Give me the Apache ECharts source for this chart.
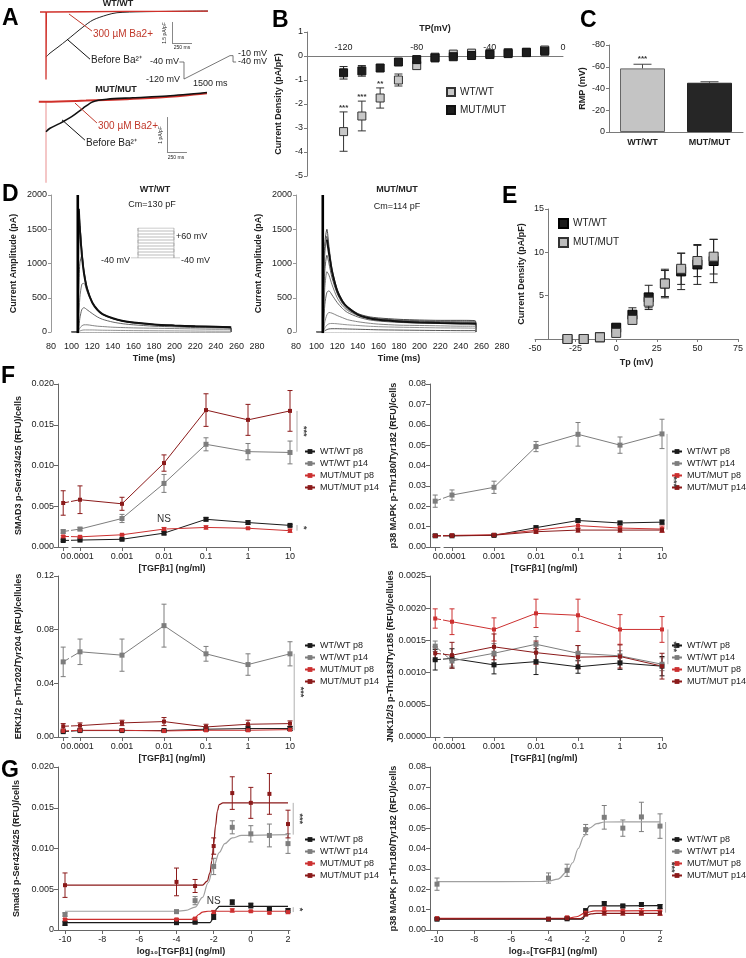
<!DOCTYPE html>
<html><head><meta charset="utf-8">
<script src="https://cdn.jsdelivr.net/npm/echarts@6.0.0/dist/echarts.min.js"></script>
<style>html,body{margin:0;padding:0;background:#fff}#c{width:746px;height:958px}</style>
</head><body><div id="c"></div>
<script>
// ================= DATA =================
// Panel A: traces (time ms, current density pA/pF)
const aTopBlackT = [0,50,150,262,462,587,762,887,1200,2025];
const aTopBlackI = [-3.21,-2.93,-2.5,-2.0,-1.07,-0.57,-0.21,-0.05,0.02,0.07];
const aTopRedT = [-75,0,0,5,500,1000,1500,2025];
const aTopRedI = [0,0,-4.8,0,0.02,0.04,0.05,0.07];
const aBotBlackT = [0,50,175,321,462,587,762,1087,1512,2012];
const aBotBlackI = [-0.85,-0.75,-0.61,-0.42,-0.18,0.01,0.08,0.12,0.17,0.27];
const aBotRedT = [-90,0,500,1000,1500,2012];
const aBotRedI = [0.01,0.01,0.04,0.08,0.14,0.25];
const aBotSpikeI = [0.01,-2.31];
const aProtoT = [-150,0,0,1500,1600,1600,1700];
const aProtoV = [-40,-40,-120,-10,-10,-40,-40];

// Panel B: I-V (TP mV)
const bTP = [-120,-110,-100,-90,-80,-70,-60,-50,-40,-30,-20,-10];
const bWT = [-3.15,-2.5,-1.75,-1.0,-0.4,-0.05,0.08,0.12,0.1,0.14,0.16,0.25];
const bWTerr = [0.82,0.62,0.42,0.25,0.15,0.04,0.04,0.04,0.04,0.04,0.04,0.04];
const bMUT = [-0.7,-0.62,-0.5,-0.25,-0.15,-0.08,-0.03,0.02,0.06,0.1,0.14,0.2];
const bMUTerr = [0.26,0.22,0.12,0.05,0.05,0.04,0.04,0.04,0.04,0.04,0.04,0.04];
const bSig = ['***','***','**','','','','','','','','',''];

// Panel C: RMP
const cCats = ['WT/WT','MUT/MUT'];
const cVals = [-58.5,-45.3];
const cErr = [3.8,0.9];
const cSig = ['***',''];

// Panel D: traces (time ms, pA)
const dT = [100,106,107,108,110,112,115,120,125,130,140,150,160,180,200,220,240,254,255];
const dWT1 = [0,0,1770,1600,1150,850,620,430,320,260,200,160,140,110,95,85,75,70,0];
const dWT2 = [0,0,1200,1550,1200,880,640,440,330,265,200,160,140,110,95,85,80,75,0];
const dWT3 = [0,0,600,1000,1120,900,650,440,330,260,195,160,135,110,90,80,75,70,0];
const dWT4 = [0,0,200,500,700,710,590,430,320,255,195,155,130,105,90,80,70,65,0];
const dWT5 = [0,0,50,200,330,355,325,270,220,185,145,120,105,85,75,65,60,55,0];
const dWT6 = [0,0,20,60,90,105,105,95,85,80,70,65,60,55,50,45,40,40,0];
const dWT7 = [0,0,5,15,25,30,30,30,28,26,24,22,20,18,16,14,12,12,0];
const dWT8 = [0,0,-5,-8,-8,-8,-8,-8,-8,-8,-8,-8,-8,-8,-8,-8,-8,-8,0];
const dWTfitT = [107,108,110,112,115,120,125,130,140,150,160,180,200,220,240,255];
const dWTfitI = [1800,1500,1120,860,630,430,325,262,200,160,138,110,95,84,76,70];
const dMUT1 = [0,0,800,1300,1500,1250,920,620,460,370,270,225,205,185,175,170,170,165,0];
const dMUT2 = [0,0,700,1150,1400,1200,890,600,445,355,260,215,195,175,165,160,160,155,0];
const dMUT3 = [0,0,500,900,1120,1000,790,560,420,335,250,205,185,165,155,150,145,140,0];
const dMUT4 = [0,0,300,650,880,830,690,500,385,315,240,195,175,155,145,140,135,130,0];
const dMUT5 = [0,0,150,400,580,600,540,430,345,285,220,180,160,140,130,125,120,115,0];
const dMUT6 = [0,0,50,150,250,285,275,240,210,180,150,130,115,100,95,90,85,85,0];
const dMUT7 = [0,0,20,60,100,120,125,120,112,105,95,85,78,70,65,60,58,55,0];
const dMUT8 = [0,0,5,20,35,45,48,48,46,44,40,36,32,28,25,22,20,20,0];
const dMUTfitT = [110,112,115,120,125,130,140,150,160,180,200,220,240,255];
const dMUTfitI = [1350,1150,880,600,450,360,255,205,180,155,140,130,125,120];
const dSpikeT = [106,106];
const dSpikeI = [-20,2000];
const dProtoLevels = [-40,-30,-20,-10,0,10,20,30,40,50,60];
const dProtoTimes = [77,106,255,280]; // pre, on, off, post

// Panel E
const eTP = [-30,-20,-10,0,10,20,30,40,50,60];
const eWT = [0,0,0.2,1.3,2.8,4.8,6.4,7.8,8.6,9.0];
const eWTerr = [0,0,0.1,0.3,0.8,1.4,1.65,2.1,2.3,2.5];
const eMUT = [0,0,0.2,0.7,2.2,4.3,6.4,8.1,9.0,9.5];
const eMUTerr = [0,0,0.1,0.2,0.5,0.7,1.5,1.8,1.8,2.0];

// Panels F: doses
const doseLabels = ['0','0.0001','0.001','0.01','0.1','1','10'];
// F1 SMAD3
const f1wt8 = [0.0008,0.00085,0.00095,0.0017,0.0034,0.0030,0.00265];
const f1wt8e = [0.0001,0.0001,0.0001,0.0002,0.0002,0.0002,0.0001];
const f1wt14 = [0.0019,0.0022,0.0035,0.0078,0.0126,0.0117,0.0116];
const f1wt14e = [0.0002,0.0002,0.0005,0.0011,0.0008,0.0010,0.0014];
const f1mut8 = [0.0013,0.00125,0.0015,0.0022,0.0024,0.0023,0.0020];
const f1mut8e = [0.0001,0.0001,0.0001,0.0002,0.0002,0.0001,0.0002];
const f1mut14 = [0.0054,0.0058,0.0053,0.0103,0.0168,0.0156,0.0167];
const f1mut14e = [0.0015,0.0017,0.0008,0.0010,0.0020,0.0019,0.0025];
// F2 p38
const f2wt8 = [0.0055,0.0055,0.0057,0.0095,0.0130,0.0118,0.0122];
const f2wt8e = [0.0005,0.0004,0.0005,0.0008,0.0006,0.0008,0.0010];
const f2wt14 = [0.0225,0.0255,0.0293,0.0493,0.0553,0.0500,0.0555];
const f2wt14e = [0.003,0.0025,0.003,0.0025,0.0058,0.004,0.0072];
const f2mut8 = [0.0055,0.0057,0.0060,0.0082,0.0105,0.0093,0.0088];
const f2mut8e = [0.0004,0.0004,0.0005,0.0010,0.0015,0.0010,0.0015];
const f2mut14 = [0.0055,0.0055,0.0058,0.0075,0.0083,0.0083,0.0083];
const f2mut14e = [0.0004,0.0004,0.0005,0.0008,0.0010,0.0010,0.0010];
// F3 ERK
const f3wt8 = [0.0040,0.0048,0.0048,0.0048,0.0058,0.0063,0.0063];
const f3wt8e = [0.0005,0.0005,0.0005,0.0005,0.0010,0.0020,0.0015];
const f3wt14 = [0.056,0.0635,0.061,0.083,0.062,0.054,0.062];
const f3wt14e = [0.011,0.0095,0.012,0.016,0.0055,0.008,0.009];
const f3mut8 = [0.0045,0.0050,0.0050,0.0045,0.0050,0.0050,0.0055];
const f3mut8e = [0.0005,0.0005,0.0008,0.0008,0.0008,0.0008,0.0008];
const f3mut14 = [0.0080,0.0085,0.0105,0.0115,0.0075,0.0095,0.0100];
const f3mut14e = [0.0020,0.0020,0.0020,0.0030,0.0020,0.0030,0.0020];
// F4 JNK
const f4wt8 = [0.00120,0.00122,0.00112,0.00117,0.00109,0.00115,0.00110];
const f4wt8e = [0.00016,0.00015,0.00014,0.00020,0.00010,0.00010,0.00015];
const f4wt14 = [0.00141,0.00118,0.00130,0.00144,0.00130,0.00126,0.00113];
const f4wt14e = [0.00008,0.00008,0.00015,0.00012,0.00012,0.00008,0.00010];
const f4mut8 = [0.00184,0.00179,0.00167,0.00192,0.00189,0.00167,0.00167];
const f4mut8e = [0.00015,0.00020,0.00018,0.00022,0.00025,0.00023,0.00020];
const f4mut14 = [0.00130,0.00127,0.00140,0.00131,0.00124,0.00125,0.00110];
const f4mut14e = [0.00010,0.00020,0.00020,0.00018,0.00018,0.00018,0.00020];

// Panels G: log10 dose
const gLog = [-10,-4,-3,-2,-1,0,1,2];
const gTicks = [-10,-8,-6,-4,-2,0,2];
const g1wt8 = [0.0008,0.0009,0.00095,0.0016,0.0034,0.0030,0.0026,0.0024];
const g1wt8e = [0.0002,0.0001,0.0001,0.0003,0.0003,0.0003,0.0001,0.0002];
const g1wt14 = [0.0019,0.00225,0.0036,0.0078,0.0126,0.0118,0.0116,0.0106];
const g1wt14e = [0.0002,0.0002,0.0005,0.0010,0.0008,0.0010,0.0014,0.0012];
const g1mut8 = [0.0013,0.0013,0.0014,0.0022,0.0024,0.0023,0.0021,0.0022];
const g1mut8e = [0.0001,0.0001,0.0001,0.0002,0.0002,0.0001,0.0001,0.0002];
const g1mut14 = [0.0055,0.0059,0.0054,0.0103,0.0168,0.0156,0.0167,0.0130];
const g1mut14e = [0.0015,0.0017,0.0008,0.0010,0.0020,0.0019,0.0025,0.0017];
const g1cWt8X = [-10,-2.2,-2.05,-1.95,-1.85,-1.7,2];
const g1cWt8Y = [0.0009,0.0009,0.0013,0.0020,0.0026,0.0029,0.0029];
const g1cWt14X = [-10,-4,-3.5,-3,-2.6,-2.3,-2,-1.7,-1.4,-1,-0.5,2];
const g1cWt14Y = [0.0023,0.0023,0.0024,0.0028,0.0040,0.0058,0.0078,0.0095,0.0106,0.0113,0.0116,0.0117];
const g1cMut8X = [-10,-3.2,-3.0,-2.8,-2.6,-2.3,2];
const g1cMut8Y = [0.0013,0.0013,0.0015,0.0019,0.0022,0.0023,0.0023];
const g1cMut14X = [-10,-2.6,-2.35,-2.2,-2.1,-2.0,-1.9,-1.8,-1.7,-1.5,2];
const g1cMut14Y = [0.0055,0.0055,0.0060,0.0070,0.0085,0.0105,0.0128,0.0146,0.0154,0.0156,0.0156];
const g2wt8 = [0.0053,0.0053,0.0055,0.0095,0.0130,0.0118,0.0125,0.0115];
const g2wt8e = [0.0005,0.0004,0.0005,0.0008,0.0008,0.0008,0.0008,0.0010];
const g2wt14 = [0.0225,0.0255,0.0293,0.0493,0.0553,0.0500,0.0555,0.0510];
const g2wt14e = [0.003,0.0025,0.003,0.0025,0.0058,0.004,0.0072,0.006];
const g2mut8 = [0.0058,0.0055,0.0062,0.0085,0.0105,0.0093,0.0090,0.0088];
const g2mut8e = [0.0004,0.0004,0.0005,0.0010,0.0015,0.0010,0.0015,0.0015];
const g2mut14 = [0.0055,0.0053,0.0058,0.0077,0.0083,0.0083,0.0083,0.0083];
const g2mut14e = [0.0004,0.0004,0.0005,0.0008,0.0010,0.0010,0.0010,0.0010];
const g2cWt8X = [-10,-2.15,-2.0,-1.9,-1.8,2];
const g2cWt8Y = [0.0053,0.0053,0.0080,0.0108,0.0118,0.0120];
const g2cWt14X = [-10,-4.5,-4,-3.5,-3,-2.7,-2.4,-2.1,-1.8,-1.4,-1,2];
const g2cWt14Y = [0.0237,0.0238,0.0240,0.0250,0.0285,0.0330,0.0400,0.0460,0.0500,0.0522,0.0530,0.0531];
const g2cMut8X = [-10,-3,-2.5,-2.0,-1.5,2];
const g2cMut8Y = [0.0057,0.0057,0.0065,0.0085,0.0094,0.0095];
const g2cMut14X = [-10,-2.3,-2.0,-1.7,-1.4,2];
const g2cMut14Y = [0.0055,0.0056,0.0070,0.0079,0.0082,0.0082];

// ================= BUILD =================
const FONT = '"Liberation Sans", Arial, Helvetica, sans-serif';
const AX = '#7a7a7a', FAX = '#666';
const NAME = {fontWeight:'bold', fontSize:9, color:'#222', fontFamily:FONT};
function LBL(fs){ return {fontSize:fs||9, color:'#222', fontFamily:FONT}; }
const grids=[], xAxis=[], yAxis=[], series=[], legend=[], texts=[];
function grid(l,t,w,h,xa,ya){
  grids.push({left:l, top:t, width:w, height:h, containLabel:false});
  const i = grids.length-1;
  xAxis.push(Object.assign({gridIndex:i, type:'value', splitLine:{show:false}}, xa));
  yAxis.push(Object.assign({gridIndex:i, type:'value', splitLine:{show:false}}, ya));
  return i;
}
function pairs(a,b){ return a.map((x,i)=>[x,b[i]]); }
function txt(x,y,s,o){ o=o||{}; texts.push({type:'text', x:x, y:y, rotation:o.rot||0, silent:true, z:100,
  style:{text:s, font:(o.w||'normal')+' '+(o.fs||10)+'px '+FONT, fill:o.c||'#222',
    textAlign:o.a||'left', textVerticalAlign:'middle', align:o.a||'left', verticalAlign:'middle'}}); }
function errSeries(gi, items, capW){
  return {type:'custom', xAxisIndex:gi, yAxisIndex:gi, silent:true, clip:false, z:2,
    data: items.map(d=>[d[0],d[1]]), encode:{x:0,y:1},
    renderItem:(p,api)=>{ const d=items[p.dataIndex];
      if(!d[2]) return null;
      const t=api.coord([d[0],d[1]+d[2]]), b=api.coord([d[0],d[1]-d[2]]);
      const st={stroke:d[3], lineWidth:1};
      return {type:'group', children:[
        {type:'line', shape:{x1:t[0],y1:t[1],x2:b[0],y2:b[1]}, style:st},
        {type:'line', shape:{x1:t[0]-capW,y1:t[1],x2:t[0]+capW,y2:t[1]}, style:st},
        {type:'line', shape:{x1:b[0]-capW,y1:b[1],x2:b[0]+capW,y2:b[1]}, style:st}]};
    }};
}
function annoSeries(gi, items){
  return {type:'custom', xAxisIndex:gi, yAxisIndex:gi, silent:true, clip:false, z:6,
    data: items.map(it=>[it.x, it.y!==undefined?it.y:it.y1]), encode:{x:0,y:1},
    renderItem:(p,api)=>{ const it=items[p.dataIndex];
      if(it.k==='br'){ const a=api.coord([it.x,it.y1]), b=api.coord([it.x,it.y2]);
        return {type:'group', children:[
          {type:'line', shape:{x1:a[0],y1:a[1],x2:b[0],y2:b[1]}, style:{stroke:'#b0b0b0', lineWidth:1}},
          {type:'text', x:a[0]+6, y:(a[1]+b[1])/2, rotation:-Math.PI/2,
           style:{text:it.t, font:'bold 9px '+FONT, fill:'#444', textAlign:'center', textVerticalAlign:'middle', align:'center', verticalAlign:'middle'}}]};
      }
      const a=api.coord([it.x,it.y]);
      return {type:'text', x:a[0], y:a[1]+(it.dy||0),
        style:{text:it.t, font:it.font||('10px '+FONT), fill:it.c||'#333', textAlign:'center', textVerticalAlign:'middle', align:'center', verticalAlign:'middle'}};
    }};
}
const hidAx = (min,max)=>({show:false, min:min, max:max});

// ---------- Panel A ----------
const gAT = grid(38,5,170,80, hidAx(-100,2025), hidAx(-5.2,0.5));
series.push({type:'line', xAxisIndex:gAT, yAxisIndex:gAT, data:pairs(aTopBlackT,aTopBlackI), showSymbol:false, smooth:0.3, lineStyle:{color:'#222', width:1}, z:2,
  markLine:{silent:true, symbol:['none','arrow'], symbolSize:[0,7], label:{show:false}, animation:false,
    data:[[{coord:[575,-1.36], lineStyle:{color:'#c0392b',width:1,type:'solid'}},{coord:[287,-0.14]}],
          [{coord:[550,-3.36], lineStyle:{color:'#111',width:1,type:'solid'}},{coord:[262,-1.93]}]]}});
series.push({type:'line', xAxisIndex:gAT, yAxisIndex:gAT, data:pairs(aTopRedT,aTopRedI), showSymbol:false, lineStyle:{color:'#d0302a', width:1.3}, z:3,
  markLine:{silent:true, symbol:['none','none'], label:{show:false}, animation:false,
    data:[[{coord:[1575,-0.71], lineStyle:{color:'#888',width:1,type:'solid'}},{coord:[1575,-2.21]}],
          [{coord:[1575,-2.21], lineStyle:{color:'#888',width:1,type:'solid'}},{coord:[1825,-2.21]}]]}});
const gAB = grid(38,88,170,98, hidAx(-100,2025), hidAx(-2.4,0.4));
series.push({type:'line', xAxisIndex:gAB, yAxisIndex:gAB, data:[[0,aBotSpikeI[0]],[0,aBotSpikeI[1]]], showSymbol:false, lineStyle:{color:'#f0b4b4', width:1.5}, z:1});
series.push({type:'line', xAxisIndex:gAB, yAxisIndex:gAB, data:pairs(aBotRedT,aBotRedI), showSymbol:false, smooth:0.3, lineStyle:{color:'#d0302a', width:2}, z:2,
  markLine:{silent:true, symbol:['none','none'], label:{show:false}, animation:false,
    data:[[{coord:[1512,-0.43], lineStyle:{color:'#888',width:1,type:'solid'}},{coord:[1512,-1.43]}],
          [{coord:[1512,-1.43], lineStyle:{color:'#888',width:1,type:'solid'}},{coord:[1762,-1.43]}]]}});
series.push({type:'line', xAxisIndex:gAB, yAxisIndex:gAB, data:pairs(aBotBlackT,aBotBlackI), showSymbol:false, smooth:0.3, lineStyle:{color:'#111', width:1.6}, z:3,
  markLine:{silent:true, symbol:['none','arrow'], symbolSize:[0,7], label:{show:false}, animation:false,
    data:[[{coord:[637,-0.6], lineStyle:{color:'#c0392b',width:1,type:'solid'}},{coord:[362,-0.03]}],
          [{coord:[487,-1.09], lineStyle:{color:'#111',width:1,type:'solid'}},{coord:[200,-0.51]}]]}});
const gAP = grid(179.4,53.5,56.7,26.6, hidAx(-150,1700), hidAx(-125,0));
series.push({type:'line', xAxisIndex:gAP, yAxisIndex:gAP, data:pairs(aProtoT,aProtoV), showSymbol:false, lineStyle:{color:'#555', width:0.8}});

// ---------- Panel B ----------
const gB = grid(307,32,256,144,
  {min:-140, max:0, interval:20, position:'top', offset:-24, axisLine:{show:true, onZero:false, lineStyle:{color:AX}}, axisTick:{show:false},
   axisLabel:{...LBL(9), margin:4, formatter:v=>(v%40===0 && v!==-140)?String(v):''},
   name:'TP(mV)', nameLocation:'middle', nameGap:23, nameTextStyle:NAME},
  {min:-5, max:1, interval:1, axisLine:{show:true, onZero:false, lineStyle:{color:AX}}, axisTick:{show:true, length:3, lineStyle:{color:AX}},
   axisLabel:{...LBL(9), margin:4}, name:'Current Density (pA/pF)', nameLocation:'middle', nameGap:24, nameTextStyle:NAME});
series.push(errSeries(gB, bTP.map((x,i)=>[x,bWT[i],bWTerr[i],'#333']).concat(bTP.map((x,i)=>[x,bMUT[i],bMUTerr[i],'#222'])), 4));
series.push({type:'scatter', name:'WT/WT', xAxisIndex:gB, yAxisIndex:gB, symbol:'rect', symbolSize:8, data:pairs(bTP,bWT),
  itemStyle:{color:'#c8c8c8', borderColor:'#333', borderWidth:1, opacity:1}, z:3});
series.push({type:'scatter', name:'MUT/MUT', xAxisIndex:gB, yAxisIndex:gB, symbol:'rect', symbolSize:8, data:pairs(bTP,bMUT),
  itemStyle:{color:'#1e1e1e', borderColor:'#111', borderWidth:1, opacity:1}, z:4});
series.push(annoSeries(gB, bTP.map((x,i)=>({k:'tx', x:x, y:bWT[i]+bWTerr[i], dy:-4, t:bSig[i], font:'bold 8px '+FONT, c:'#333'})).filter(o=>o.t)));
legend.push({left:446, top:87, orient:'vertical', itemGap:8, itemWidth:8, itemHeight:8, itemTextGap:3, padding:0, selectedMode:false,
  data:['WT/WT','MUT/MUT'], textStyle:{fontSize:10, color:'#222', fontFamily:FONT}});

// ---------- Panel C ----------
const gC = grid(609,45,134,87,
  {type:'category', data:cCats, axisLine:{show:true, lineStyle:{color:AX}}, axisTick:{show:false},
   axisLabel:{...LBL(9), fontWeight:'bold', margin:6}},
  {min:-80, max:0, interval:20, inverse:true, axisLine:{show:true, onZero:false, lineStyle:{color:AX}}, axisTick:{show:true, length:3, lineStyle:{color:AX}},
   axisLabel:{...LBL(9), margin:4}, name:'RMP (mV)', nameLocation:'middle', nameGap:22, nameTextStyle:NAME});
series.push({type:'bar', xAxisIndex:gC, yAxisIndex:gC, barWidth:45, z:2,
  data:[{value:cVals[0], itemStyle:{color:'#c4c4c4', borderColor:'#666', borderWidth:1}},
        {value:cVals[1], itemStyle:{color:'#262626', borderColor:'#222', borderWidth:1}}]});
series.push({type:'custom', xAxisIndex:gC, yAxisIndex:gC, silent:true, clip:false, z:3, data:cVals.map((v,i)=>[i,v]), encode:{x:0,y:1},
  renderItem:(p,api)=>{ const i=p.dataIndex; const a=api.coord([i,cVals[i]]), b=api.coord([i,cVals[i]-cErr[i]]); const st={stroke:'#444',lineWidth:1};
    return {type:'group', children:[{type:'line',shape:{x1:a[0],y1:a[1],x2:b[0],y2:b[1]},style:st},{type:'line',shape:{x1:b[0]-9,y1:b[1],x2:b[0]+9,y2:b[1]},style:st}]}; }});
series.push(annoSeries(gC, cVals.map((v,i)=>({k:'tx', x:i, y:v-cErr[i], dy:-5, t:cSig[i], font:'bold 8px '+FONT, c:'#333'})).filter(o=>o.t)));

// ---------- Panel D ----------
function buildD(left, traces, fitT, fitI){
  const gi = grid(left,195,206,137,
    {min:80, max:280, interval:20, axisLine:{show:false}, axisTick:{show:false}, axisLabel:{...LBL(9), margin:10, formatter:v=>String(v)},
     name:'Time (ms)', nameLocation:'middle', nameGap:22, nameTextStyle:NAME},
    {min:0, max:2000, interval:500, axisLine:{show:true, onZero:false, lineStyle:{color:'#999'}}, axisTick:{show:true, length:3, lineStyle:{color:'#999'}},
     axisLabel:{...LBL(9), margin:4, formatter:v=>String(v)}, name:'Current Amplitude (pA)', nameLocation:'middle', nameGap:33, nameTextStyle:NAME});
  const cols = ['#333','#555','#444','#666','#555','#777','#888','#444','#999'];
  traces.forEach((tr,k)=>series.push({type:'line', xAxisIndex:gi, yAxisIndex:gi, data:pairs(dT,tr), showSymbol:false, smooth:0.25,
    lineStyle:{color:cols[k%cols.length], width:0.9}, z:2}));
  series.push({type:'line', xAxisIndex:gi, yAxisIndex:gi, data:pairs(fitT,fitI), showSymbol:false, smooth:0.3, lineStyle:{color:'#111', width:2}, z:3});
  series.push({type:'line', xAxisIndex:gi, yAxisIndex:gi, data:pairs(dSpikeT,dSpikeI), showSymbol:false, lineStyle:{color:'#000', width:2.6}, z:4});
  return gi;
}
buildD(51, [dWT1,dWT2,dWT3,dWT4,dWT5,dWT6,dWT7,dWT8], dWTfitT, dWTfitI);
buildD(296, [dMUT1,dMUT2,dMUT3,dMUT4,dMUT5,dMUT6,dMUT7,dMUT8,dWT8], dMUTfitT, dMUTfitI);
// D protocol inset
const gDP = grid(131,228,49,30, hidAx(77,280), hidAx(-40,60));
const pOn = dProtoTimes[1], pOff = dProtoTimes[2];
const snake = [];
dProtoLevels.forEach((L,i)=>{ const a = i%2===0 ? [pOn,pOff] : [pOff,pOn]; snake.push([a[0],L],[a[1],L]); });
const pMax = dProtoLevels[dProtoLevels.length-1], pHold = dProtoLevels[0];
[[[dProtoTimes[0],pHold],[pOn,pHold],[pOn,pMax]], snake, [[pOff,pMax],[pOff,pHold],[dProtoTimes[3],pHold]]].forEach(d=>
  series.push({type:'line', xAxisIndex:gDP, yAxisIndex:gDP, data:d, showSymbol:false, lineStyle:{color:'#aaa', width:0.8}}));

// ---------- Panel E ----------
const gE = grid(535,209,205,130,
  {min:-50, max:75, interval:25, axisLine:{show:true, onZero:false, lineStyle:{color:AX}}, axisTick:{show:true, length:3, lineStyle:{color:AX}},
   axisLabel:{...LBL(9), margin:5}, name:'Tp (mV)', nameLocation:'middle', nameGap:19, nameTextStyle:NAME},
  {min:0, max:15, interval:5, offset:-13, axisLine:{show:true, onZero:false, lineStyle:{color:AX}}, axisTick:{show:true, length:3, lineStyle:{color:AX}},
   axisLabel:{...LBL(9), margin:4, formatter:v=>v===0?'':String(v)}, name:'Current Density (pA/pF)', nameLocation:'middle', nameGap:22, nameTextStyle:NAME});
series.push(errSeries(gE, eTP.map((x,i)=>[x,eWT[i],eWTerr[i],'#222']).concat(eTP.map((x,i)=>[x,eMUT[i],eMUTerr[i],'#222'])), 4));
series.push({type:'scatter', name:'WT/WT ', xAxisIndex:gE, yAxisIndex:gE, symbol:'rect', symbolSize:9, data:pairs(eTP,eWT),
  itemStyle:{color:'#1a1a1a', borderColor:'#000', borderWidth:1, opacity:1}, z:3});
series.push({type:'scatter', name:'MUT/MUT ', xAxisIndex:gE, yAxisIndex:gE, symbol:'rect', symbolSize:9, data:pairs(eTP,eMUT),
  itemStyle:{color:'#bdbdbd', borderColor:'#333', borderWidth:1, opacity:1}, z:4});
legend.push({left:558, top:218, orient:'vertical', itemGap:8, itemWidth:9, itemHeight:9, itemTextGap:3, padding:0, selectedMode:false,
  data:['WT/WT ','MUT/MUT '], textStyle:{fontSize:10, color:'#222', fontFamily:FONT}});

// ---------- Panels F ----------
const groups = [
  {name:'WT/WT p8', color:'#1a1a1a', sym:5},
  {name:'WT/WT p14', color:'#7d7d7d', sym:5, curve:'#a0a0a0'},
  {name:'MUT/MUT p8', color:'#cc3030', sym:4},
  {name:'MUT/MUT p14', color:'#8b1a1a', sym:4}];
const ZERO_POS = -4.4; // position on the log10 dose axis where the "0" dose is drawn
const dosePos = doseLabels.map(s=>s==='0' ? ZERO_POS : Math.log10(+s));
function addLegend(l,t){
  legend.push({left:l, top:t, orient:'vertical', itemGap:1, itemWidth:10, itemHeight:6, itemTextGap:3, padding:0, selectedMode:false,
    data:groups.map(g=>g.name), textStyle:{fontSize:9, color:'#222', fontFamily:FONT, lineHeight:11}});
}
function buildF(c){
  const D = 42;
  const zeroPx = c.x4 + (ZERO_POS+4)*D;
  const zMin = ZERO_POS - (zeroPx - c.axisX)/D, zMax = zMin + 10/D;
  const mMin = -4 - (c.x4 - (c.axisX+14))/D, mMax = 1;
  const xl = {show:true, onZero:false, lineStyle:{color:FAX}};
  const yb = {min:c.yMin, max:c.yMax, interval:c.yInt};
  const gz = grid(c.axisX, c.top, 10, c.h,
    {min:zMin, max:zMax, axisLine:xl, axisTick:{show:true, length:4, customValues:[ZERO_POS], lineStyle:{color:FAX}},
     axisLabel:{...LBL(9), margin:5, customValues:[ZERO_POS], formatter:()=>'0'}},
    Object.assign({}, yb, {axisLine:{show:true, onZero:false, lineStyle:{color:FAX}}, axisTick:{show:true, length:4, lineStyle:{color:FAX}},
     axisLabel:{...LBL(9), margin:4, formatter:c.yFmt}, name:c.yName, nameLocation:'middle', nameGap:c.yGap, nameTextStyle:NAME}));
  const mt = [-4,-3,-2,-1,0,1];
  const gm = grid(c.x4 + (mMin+4)*D, c.top, (mMax-mMin)*D, c.h,
    {min:mMin, max:mMax, axisLine:xl, axisTick:{show:true, length:4, customValues:mt, lineStyle:{color:FAX}},
     axisLabel:{...LBL(9), margin:5, customValues:mt, formatter:v=>doseLabels[Math.round(v)+5]},
     name:'[TGFβ1] (ng/ml)', nameLocation:'middle', nameGap:17, nameTextStyle:Object.assign({}, NAME, {padding:[0,18,0,0]})},
    Object.assign({show:false}, yb));
  const vals=[c.wt8,c.wt14,c.mut8,c.mut14], errs=[c.wt8e,c.wt14e,c.mut8e,c.mut14e];
  const ez=[], em=[];
  groups.forEach((g,k)=>vals[k].forEach((v,i)=>(i===0?ez:em).push([dosePos[i], v, errs[k][i], g.color])));
  series.push(errSeries(gz, ez, 2.5));
  series.push(errSeries(gm, em, 2.5));
  groups.forEach((g,k)=>{
    const data = pairs(dosePos, vals[k]);
    [gz,gm].forEach(gi=>series.push({type:'line', name:g.name, xAxisIndex:gi, yAxisIndex:gi, data:data, symbol:'rect', symbolSize:g.sym,
      showSymbol:true, showAllSymbol:true, clip:true, lineStyle:{width:1, color:g.color}, itemStyle:{color:g.color}, z:3}));
  });
  series.push(annoSeries(gm, c.anno));
  addLegend(c.legL, c.legT);
}
buildF({axisX:58, x4:80, top:384, h:163, yMin:0, yMax:0.02, yInt:0.005, yFmt:v=>v.toFixed(3), yName:'SMAD3 p-Ser423/425 (RFU)/cells', yGap:35,
  wt8:f1wt8, wt8e:f1wt8e, wt14:f1wt14, wt14e:f1wt14e, mut8:f1mut8, mut8e:f1mut8e, mut14:f1mut14, mut14e:f1mut14e,
  anno:[{k:'br', x:1.167, y1:0.0167, y2:0.0117, t:'***'}, {k:'br', x:1.167, y1:0.0027, y2:0.0020, t:'*'}, {k:'tx', x:-2, y:0.0034, t:'NS'}],
  legL:304, legT:446});
buildF({axisX:430, x4:452, top:384, h:163, yMin:0, yMax:0.08, yInt:0.01, yFmt:v=>v.toFixed(2), yName:'p38 MAPK p-Thr180/Tyr182 (RFU)/cells', yGap:32,
  wt8:f2wt8, wt8e:f2wt8e, wt14:f2wt14, wt14e:f2wt14e, mut8:f2mut8, mut8e:f2mut8e, mut14:f2mut14, mut14e:f2mut14e,
  anno:[{k:'br', x:1.12, y1:0.0555, y2:0.0085, t:'***'}],
  legL:671, legT:446});
buildF({axisX:58, x4:80, top:576, h:161, yMin:0, yMax:0.12, yInt:0.04, yFmt:v=>v.toFixed(2), yName:'ERK1/2 p-Thr202/Tyr204 (RFU)/cellules', yGap:35,
  wt8:f3wt8, wt8e:f3wt8e, wt14:f3wt14, wt14e:f3wt14e, mut8:f3mut8, mut8e:f3mut8e, mut14:f3mut14, mut14e:f3mut14e,
  anno:[{k:'br', x:1.1, y1:0.062, y2:0.005, t:'***'}],
  legL:304, legT:640});
buildF({axisX:430, x4:452, top:576, h:161, yMin:0, yMax:0.0025, yInt:0.0005, yFmt:v=>v.toFixed(4), yName:'JNK1/2/3 p-Thr183/Tyr185 (RFU)/cellules', yGap:32,
  wt8:f4wt8, wt8e:f4wt8e, wt14:f4wt14, wt14e:f4wt14e, mut8:f4mut8, mut8e:f4mut8e, mut14:f4mut14, mut14e:f4mut14e,
  anno:[{k:'br', x:1.14, y1:0.00167, y2:0.00113, t:'***'}],
  legL:671, legT:640});

// ---------- Panels G ----------
function buildG(c){
  const S = (c.x2 - c.x10)/12;
  const min = -10 - (c.x10 - c.axisX)/S, max = 2 + (c.right - c.x2)/S;
  const gi = grid(c.axisX, c.top, (max-min)*S, c.h,
    {min:min, max:max, axisLine:{show:true, onZero:false, lineStyle:{color:FAX}}, axisTick:{show:true, length:4, customValues:gTicks, lineStyle:{color:FAX}},
     axisLabel:{...LBL(9), margin:5, customValues:gTicks, formatter:v=>String(v)},
     name:'log₁₀[TGFβ1] (ng/ml)', nameLocation:'middle', nameGap:17, nameTextStyle:Object.assign({}, NAME, {padding:[0,0,0,14]})},
    {min:c.yMin, max:c.yMax, interval:c.yInt, axisLine:{show:true, onZero:false, lineStyle:{color:FAX}}, axisTick:{show:true, length:4, lineStyle:{color:FAX}},
     axisLabel:{...LBL(9), margin:4, formatter:c.yFmt}, name:c.yName, nameLocation:'middle', nameGap:c.yGap, nameTextStyle:NAME});
  const vals=[c.wt8,c.wt14,c.mut8,c.mut14], errs=[c.wt8e,c.wt14e,c.mut8e,c.mut14e];
  const ei=[];
  groups.forEach((g,k)=>vals[k].forEach((v,i)=>ei.push([gLog[i], v, errs[k][i], g.color])));
  series.push(errSeries(gi, ei, 2.5));
  groups.forEach((g,k)=>series.push({type:'line', name:g.name, xAxisIndex:gi, yAxisIndex:gi, data:pairs(c.cx[k], c.cy[k]), showSymbol:false,
    symbol:'rect', symbolSize:g.sym, smooth:0.35, smoothMonotone:'x', lineStyle:{width:1.2, color:g.curve||g.color}, itemStyle:{color:g.color}, z:3}));
  groups.forEach((g,k)=>series.push({type:'scatter', name:g.name, xAxisIndex:gi, yAxisIndex:gi, data:pairs(gLog, vals[k]), symbol:'rect',
    symbolSize:g.sym, itemStyle:{color:g.color, opacity:1}, z:4}));
  series.push(annoSeries(gi, c.anno));
  addLegend(c.legL, c.legT);
}
buildG({axisX:58, x10:65, x2:288, right:290, top:767, h:163, yMin:0, yMax:0.02, yInt:0.005, yFmt:v=>v===0?'0':v.toFixed(3),
  yName:'Smad3 p-Ser423/425 (RFU)/cells', yGap:37,
  wt8:g1wt8, wt8e:g1wt8e, wt14:g1wt14, wt14e:g1wt14e, mut8:g1mut8, mut8e:g1mut8e, mut14:g1mut14, mut14e:g1mut14e,
  cx:[g1cWt8X,g1cWt14X,g1cMut8X,g1cMut14X], cy:[g1cWt8Y,g1cWt14Y,g1cMut8Y,g1cMut14Y],
  anno:[{k:'br', x:2.28, y1:0.0156, y2:0.0117, t:'***'}, {k:'br', x:2.28, y1:0.0028, y2:0.0022, t:'*'}, {k:'tx', x:-2, y:0.0035, t:'NS'}],
  legL:304, legT:834});
buildG({axisX:430, x10:437, x2:660, right:662, top:767, h:163, yMin:0, yMax:0.08, yInt:0.01, yFmt:v=>v.toFixed(2),
  yName:'p38 MAPK p-Thr180/Tyr182 (RFU)/cells', yGap:32,
  wt8:g2wt8, wt8e:g2wt8e, wt14:g2wt14, wt14e:g2wt14e, mut8:g2mut8, mut8e:g2mut8e, mut14:g2mut14, mut14e:g2mut14e,
  cx:[g2cWt8X,g2cWt14X,g2cMut8X,g2cMut14X], cy:[g2cWt8Y,g2cWt14Y,g2cMut8Y,g2cMut14Y],
  anno:[{k:'br', x:2.3, y1:0.053, y2:0.0085, t:'***'}],
  legL:671, legT:834});

// ---------- Texts ----------
[['A',2,19],['B',272,21],['C',580,21],['D',2,195],['E',502,197],['F',1,377],['G',1,771]].forEach(a=>txt(a[1],a[2],a[0],{w:'bold',fs:23,c:'#000'}));
txt(118,4,'WT/WT',{w:'bold',fs:9,a:'center'});
txt(116,90,'MUT/MUT',{w:'bold',fs:9,a:'center'});
txt(93,34,'300 µM Ba2+',{fs:10,c:'#c0392b'});
txt(91,60,'Before Ba²⁺',{fs:10});
txt(98,126,'300 µM Ba2+',{fs:10,c:'#c0392b'});
txt(86,143,'Before Ba²⁺',{fs:10});
txt(165,33,'1.5 pA/pF',{fs:5,a:'center',rot:Math.PI/2});
txt(182,48,'250 ms',{fs:5,a:'center'});
txt(161,135,'1 pA/pF',{fs:5,a:'center',rot:Math.PI/2});
txt(176,158,'250 ms',{fs:5,a:'center'});
txt(179,62,'-40 mV',{fs:9,a:'right'});
txt(180,80,'-120 mV',{fs:9,a:'right'});
txt(193,84,'1500 ms',{fs:9});
txt(238,54,'-10 mV',{fs:9});
txt(238,62,'-40 mV',{fs:9});
txt(155,190,'WT/WT',{w:'bold',fs:9,a:'center'});
txt(152,205,'Cm=130 pF',{fs:9,a:'center'});
txt(397,190,'MUT/MUT',{w:'bold',fs:9,a:'center'});
txt(397,207,'Cm=114 pF',{fs:9,a:'center'});
txt(176,237,'+60 mV',{fs:9});
txt(130,261,'-40 mV',{fs:9,a:'right'});
txt(181,261,'-40 mV',{fs:9});

const chart = echarts.init(document.getElementById('c'), null, {renderer:'canvas'});
chart.setOption({
  animation:false, backgroundColor:'#fff',
  textStyle:{fontFamily:FONT},
  grid:grids, xAxis:xAxis, yAxis:yAxis, legend:legend, series:series,
  graphic:{elements:texts}
});
</script></body></html>
